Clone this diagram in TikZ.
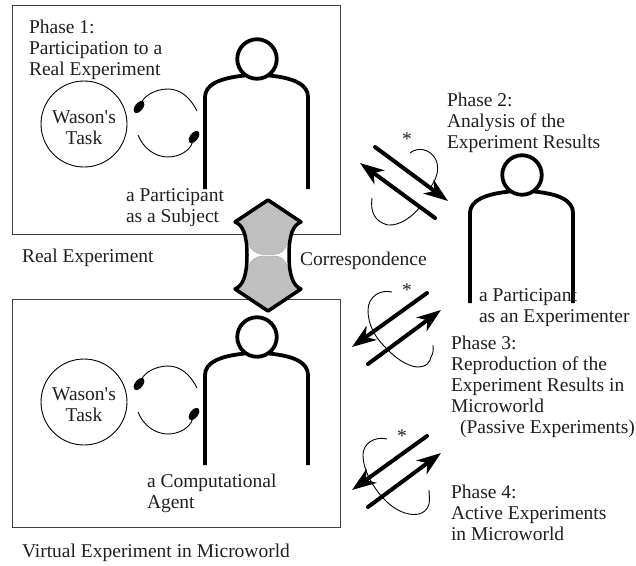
\documentclass[tikz,border=0pt]{standalone}
\usepackage{fontspec}
\newfontfamily\plainserif{Liberation Serif}
\usetikzlibrary{arrows.meta,shapes.geometric}
\tikzset{
  x=1pt,y=-1pt,
  every node/.style={inner sep=0pt,outer sep=0pt},
  txt/.style={anchor=base west,align=left,font=\plainserif\fontsize{19.5}{21}\selectfont,text=black!88},
  ctxt/.style={anchor=base,align=center,font=\plainserif\fontsize{19.5}{21}\selectfont,text=black!88},
  frame/.style={draw=black!75,line width=1pt},
  bodyline/.style={line width=3.8pt,line cap=butt},
  headnode/.style={circle,draw,line width=3.8pt,minimum size=39.5pt},
  task/.style={circle,draw,line width=0.9pt,minimum size=86pt},
  blob/.style={ellipse,fill=black,minimum width=14pt,minimum height=8pt,rotate=52},
  thin curve/.style={line width=0.9pt},
  bigarrow/.style={line width=4pt,line cap=round,-{Stealth[length=24pt,width=17pt,inset=7pt]}},
  pics/person/.style={code={
    \node[headnode] (-head) at (0,0) {};
    \draw[bodyline] (-52,#1) -- (-52,38) .. controls (-52,26) and (-38,19) .. (-12,16.5);
    \draw[bodyline] (51,#1) -- (51,38) .. controls (51,26) and (38,19) .. (12,16.5);
  }},
  pics/exchange/.style={code={
    \node[blob] (-a) at (139,107) {};
    \node[blob] (-b) at (194,137) {};
    \draw[thin curve] (197,111) .. controls (190,97) and (180,89) .. (168,89) .. controls (155,89) and (145,96) .. (-a);
    \draw[thin curve] (138,135) .. controls (143,148) and (155,157) .. (168,157) .. controls (180,157) and (190,150) .. (-b);
  }},
}
\begin{document}
\begin{tikzpicture}
\useasboundingbox (0,0) rectangle (636,565);
% frames
\draw[frame] (12.5,5.5) rectangle (340,234);
\draw[frame] (12.5,299) rectangle (340,527.5);
% people
\pic (p1) at (257,59) {person=130};
\pic (p2) at (522,175) {person=128};
\pic (p3) at (257,337) {person=128};
% tasks
\node[task] (t1) at (84,124) {};
\node[task] (t2) at (84,402) {};
\pic (e1) at (0,0) {exchange};
\pic (e2) at (0,277) {exchange};
% correspondence arrow
\fill[black!25] (268,200) -- (301,222) .. controls (293,225) and (289,235) .. (289,255) .. controls (289,275) and (293,286) .. (301,289) -- (268,311) -- (235,289) .. controls (243,286) and (247,275) .. (247,255) .. controls (247,235) and (243,225) .. (235,222) -- cycle;
\fill[white] (248,243) .. controls (251,250) and (256,254) .. (262,254.3) -- (275,254.3) .. controls (281,254) and (285,250) .. (288,243) -- (288,267) .. controls (285,260) and (281,256.3) .. (275,256) -- (262,256) .. controls (256,256.3) and (251,260) .. (248,267) -- cycle;
\draw[black!35,line width=0.5pt] (248,243) .. controls (251,250) and (256,254) .. (262,254.3) -- (275,254.3) .. controls (281,254) and (285,250) .. (288,243);
\draw[black!35,line width=0.5pt] (288,267) .. controls (285,260) and (281,256.3) .. (275,256) -- (262,256) .. controls (256,256.3) and (251,260) .. (248,267);
\draw[line width=3.5pt,line join=round] (268,200) -- (301,222) .. controls (293,225) and (289,235) .. (289,255) .. controls (289,275) and (293,286) .. (301,289) -- (268,311) -- (235,289) .. controls (243,286) and (247,275) .. (247,255) .. controls (247,235) and (243,225) .. (235,222) -- cycle;
% phase 2 arrows
\coordinate (a1s) at (375,147); \coordinate (a1e) at (448,201);
\coordinate (a2s) at (435,218); \coordinate (a2e) at (360,163);
\draw[bigarrow] (a1s) -- (a1e);
\draw[bigarrow] (a2s) -- (a2e);
\draw[thin curve] (410,153) .. controls (417,147) and (430,148) .. (436,160) .. controls (440,170) and (436,180) .. (430,188);
\draw[thin curve] (372,198) .. controls (370,212) and (375,222) .. (388,225) .. controls (400,226) and (413,216) .. (420,207);
% phase 3 arrows
\coordinate (b1s) at (427,293); \coordinate (b1e) at (352,347);
\coordinate (b2s) at (368,364); \coordinate (b2e) at (441,310);
\draw[bigarrow] (b1s) -- (b1e);
\draw[bigarrow] (b2s) -- (b2e);
\draw[thin curve] (392,292) .. controls (380,289) and (368,297) .. (368,310) .. controls (368,325) and (375,337) .. (385,347) .. controls (395,358) and (407,366) .. (417,367) .. controls (427,367) and (430,362) .. (431,357) .. controls (434,352) and (433,349) .. (433,345);
% phase 4 arrows
\coordinate (c1s) at (427,436); \coordinate (c1e) at (352,490);
\coordinate (c2s) at (368,507); \coordinate (c2e) at (441,453);
\draw[bigarrow] (c1s) -- (c1e);
\draw[bigarrow] (c2s) -- (c2e);
\draw[thin curve] (387,439) .. controls (375,436) and (363,443) .. (363,455) .. controls (363,470) and (373,487) .. (383,498) .. controls (392,508) and (403,514) .. (413,514.5) .. controls (423,515) and (428,509) .. (429,504) .. controls (430,498) and (429,495) .. (429,490);
% texts
\node[txt] (l1) at (29,75) {Phase 1:\\Participation to a\\Real Experiment};
\node[ctxt] (l2) at (84,144) {Wason's\\Task};
\node[ctxt] (l3) at (84,421) {Wason's\\Task};
\node[txt] (l4) at (126,222) {a Participant\\as a Subject};
\node[txt] (l5) at (22,262) {Real Experiment};
\node[txt] (l6) at (300,265) {Correspondence};
\node[txt] (l7) at (447,148) {Phase 2:\\Analysis of the\\Experiment Results};
\node[txt] (l8) at (479,322) {a Participant\\as an Experimenter};
\node[txt] (l9) at (451,433) {Phase 3:\\Reproduction of the\\Experiment Results in\\Microworld\\\hspace{9pt}(Passive Experiments)};
\node[txt] (l10) at (451,540) {Phase 4:\\Active Experiments\\in Microworld};
\node[txt] (l11) at (147,508) {a Computational\\Agent};
\node[txt] (l12) at (22,557) {Virtual Experiment in Microworld};
\node[ctxt] (s1) at (407,145) {*};
\node[ctxt] (s2) at (407,296) {*};
\node[ctxt] (s3) at (402,442) {*};
\end{tikzpicture}
\end{document}
